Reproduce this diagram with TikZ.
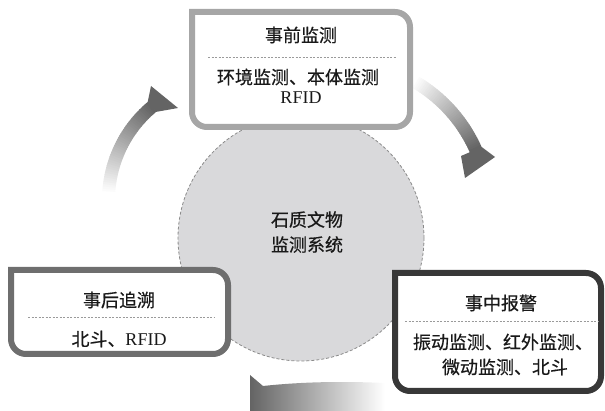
\documentclass[tikz,border=0pt]{standalone}
\usepackage{fontspec}
\setmainfont{Liberation Serif}
\newfontfamily\cjk[FakeBold=0.5]{Noto Sans CJK SC}
\definecolor{arrowdark}{HTML}{646464}
\definecolor{coregray}{HTML}{D9D9DB}
\definecolor{coreline}{HTML}{8A8A8A}
\definecolor{boxA}{HTML}{A6A6A6}
\definecolor{boxB}{HTML}{6E6E6E}
\definecolor{boxC}{HTML}{383838}
\definecolor{sepgray}{HTML}{9A9A9A}
\newcommand\fadearc[6]{%
  \foreach \i in {0,...,44}{
    \pgfmathsetmacro\aa{#5+\i*(#6-#5)/45}
    \pgfmathsetmacro\bb{#5+(\i+1.3)*(#6-#5)/45}
    \pgfmathsetmacro\cc{min(100,100*\i/44)}
    \fill[arrowdark!\cc!white] ({#1+#3*cos(\aa)},{#2+#3*sin(\aa)}) -- ({#1+#3*cos(\bb)},{#2+#3*sin(\bb)}) -- ({#1+#4*cos(\bb)},{#2+#4*sin(\bb)}) -- ({#1+#4*cos(\aa)},{#2+#4*sin(\aa)}) -- cycle;
  }}
\newcommand\cutbox[5]{%
  \draw[#5] (#1,#2) -- ({#3-15},#2) .. controls ({#3-6.7},#2) and (#3,{#2+6.7}) .. (#3,{#2+15})
    -- (#3,{#4-15}) .. controls (#3,{#4-6.7}) and ({#3-6.7},#4) .. ({#3-15},#4)
    -- ({#1+15},#4) .. controls ({#1+6.7},#4) and (#1,{#4-6.7}) .. (#1,{#4-15}) -- cycle;}
\tikzset{
  topbox/.style={draw=boxA, line width=6pt, fill=white},
  leftbox/.style={draw=boxB, line width=6pt, fill=white},
  rightbox/.style={draw=boxC, line width=6pt, fill=white},
  sepline/.style={draw=sepgray, line width=0.6pt, dash pattern=on 2pt off 1.5pt},
  txt/.style={font=\fontsize{18}{22}\selectfont, inner sep=0pt, text=black!90},
  core/.style={circle, minimum size=246pt, inner sep=0pt, fill=coregray, draw=coreline, line width=0.8pt, dash pattern=on 3pt off 2pt}
}
\begin{document}
\begin{tikzpicture}[x=1pt, y=-1pt]
\useasboundingbox (0,0) rectangle (605,411);
\begin{scope}
\clip (0,0) rectangle (605,411);
% arrows
\fadearc{230}{200}{128}{115}{183}{230}
\fill[arrowdark] ({230+128*cos(230)},{200+128*sin(230)}) -- (151,86) -- (178,108) -- ({230+115*cos(230)},{200+115*sin(230)}) -- cycle;
\fadearc{340}{210}{155}{142}{-60}{-24}
\fill[arrowdark] ({340+155*cos(-24)},{210+155*sin(-24)}) -- (495,157) -- (465,178) -- (461,156) -- ({340+142*cos(-24)},{210+142*sin(-24)}) -- cycle;
\shade[left color=arrowdark, middle color=arrowdark!65!white, right color=white] (250,375) -- (263,386) .. controls (300,382) and (340,381) .. (385,383) -- (385,420) -- (250,420) -- cycle;
% core circle
\node[core] (core) at (301,238) {};
\node[txt, align=center] (coretxt) at (307,232) {{\cjk 石质文物}\\[3pt]{\cjk 监测系统}};
% boxes
\cutbox{192}{12}{410}{127}{topbox}
\cutbox{11}{270}{228}{354}{leftbox}
\cutbox{395}{273}{601}{391}{rightbox}
\end{scope}
% top box text
\node[txt] (t1) at (301,35) {\cjk 事前监测};
\draw[sepline] (208,57) -- (396,57);
\node[txt] (t2) at (298,77) {\cjk 环境监测、本体监测};
\node[txt] (t3) at (301,98) {RFID};
% left box text
\node[txt] (l1) at (119,300) {\cjk 事后追溯};
\draw[sepline] (28,317) -- (214,317);
\node[txt] (l2) at (119,339) {{\cjk 北斗、}RFID};
% right box text
\node[txt] (r1) at (501,303) {\cjk 事中报警};
\draw[sepline] (405,321) -- (598,321);
\node[txt] (r2) at (503,342) {\cjk 振动监测、红外监测、};
\node[txt] (r3) at (505,367) {\cjk 微动监测、北斗};
\end{tikzpicture}
\end{document}
